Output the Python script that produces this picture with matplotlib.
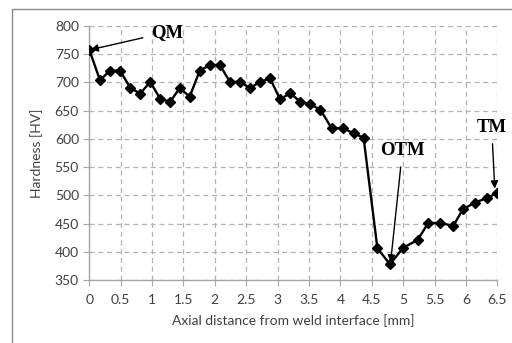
import matplotlib.pyplot as plt
from matplotlib.patches import Rectangle

# data
distance = [0.0, 0.17, 0.33, 0.49, 0.65, 0.81, 0.97, 1.13, 1.29, 1.44, 1.60,
            1.76, 1.92, 2.08, 2.24, 2.40, 2.56, 2.72, 2.88, 3.04, 3.20, 3.36,
            3.52, 3.68, 3.86, 4.04, 4.21, 4.37, 4.59, 4.79, 5.00, 5.23, 5.40,
            5.59, 5.80, 5.95, 6.14, 6.33, 6.49]
hardness = [758, 704, 721, 721, 691, 680, 701, 671, 666, 690, 675,
            721, 731, 731, 701, 701, 690, 701, 707, 670, 681, 666,
            661, 652, 619, 619, 610, 602, 406, 378, 407, 421, 451,
            451, 446, 475, 487, 495, 504]
xticks = [0, 0.5, 1, 1.5, 2, 2.5, 3, 3.5, 4, 4.5, 5, 5.5, 6, 6.5]
xticklabels = ['0', '0.5', '1', '1.5', '2', '2.5', '3', '3.5', '4', '4.5', '5', '5.5', '6', '6.5']
yticks = [350, 400, 450, 500, 550, 600, 650, 700, 750, 800]

plt.rcParams['font.family'] = ['Lato', 'DejaVu Sans']

fig = plt.figure(figsize=(5.12, 3.43), dpi=100)
fig.patches.append(Rectangle((12 / 512, -0.1), 1.2, 1 - 9 / 343 + 0.1,
                             transform=fig.transFigure, fill=False,
                             edgecolor='#8c8c8c', linewidth=1.0))
ax = fig.add_axes([89.3 / 512, 63 / 343, 408 / 512, 254 / 343])

ax.plot(distance, hardness, color='black', linewidth=1.7, marker='D',
        markersize=5, zorder=3)

ax.set_xlim(0, 6.5)
ax.set_ylim(350, 800)
ax.set_xticks(xticks)
ax.set_xticklabels(xticklabels)
ax.set_yticks(yticks)
ax.grid(True, color='#b3b3b3', linestyle=(0, (4, 3)), linewidth=0.9)
for s in ['top', 'right']:
    ax.spines[s].set_visible(False)
for s in ['left', 'bottom']:
    ax.spines[s].set_color('#a6a6a6')
    ax.spines[s].set_linewidth(1.0)
ax.tick_params(colors='#a6a6a6', labelcolor='#404040', labelsize=10, length=4)
ax.tick_params(axis='x', pad=6)
ax.set_xlabel('Axial distance from weld interface [mm]', fontsize=10,
              color='#404040', labelpad=6)
ax.set_ylabel('Hardness [HV]', fontsize=10, color='#404040', labelpad=8)

ann = dict(fontsize=13.5, fontweight='bold', family='Liberation Serif',
           ha='center', va='center',
           arrowprops=dict(arrowstyle='-|>', color='black', lw=1.0,
                           shrinkA=4, shrinkB=0, mutation_scale=11))
ax.annotate('QM', xy=(0.02, 758), xytext=(1.24, 789), **ann)
ax.annotate('OTM', xy=(4.8, 381), xytext=(4.99, 580), **ann)
ax.annotate('TM', xy=(6.46, 512), xytext=(6.41, 621), **ann)

fig.savefig('out.png', dpi=100)
